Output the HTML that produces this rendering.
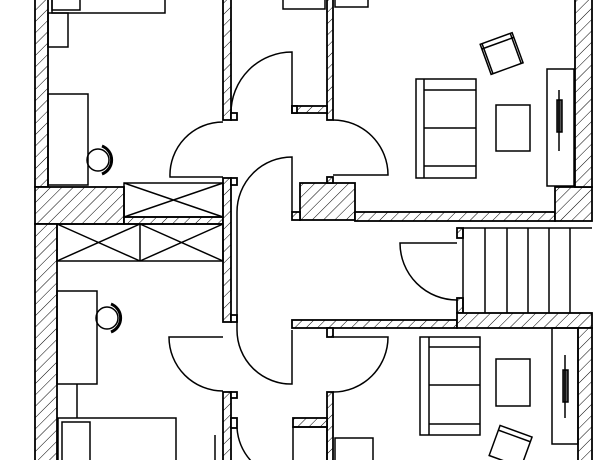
<!DOCTYPE html>
<html><head><meta charset="utf-8"><style>html,body{margin:0;padding:0;background:#fff}svg{display:block}</style></head><body>
<svg width="600" height="460" viewBox="0 0 600 460" xmlns="http://www.w3.org/2000/svg">
<defs>
<pattern id="h" patternUnits="userSpaceOnUse" width="8" height="8" patternTransform="rotate(45)">
<rect width="8" height="8" fill="#fff"/><line x1="0" y1="0" x2="0" y2="8" stroke="#000" stroke-width="1"/>
</pattern>
</defs>
<g fill="url(#h)" stroke="#000" stroke-width="1.8">
<rect x="35" y="-2" width="13" height="189"/>
<rect x="35" y="187" width="89" height="37"/>
<rect x="35" y="224" width="22" height="238"/>
<rect x="124" y="217" width="99" height="7"/>
<rect x="223" y="-2" width="8" height="122"/>
<rect x="223" y="178" width="8" height="144"/>
<rect x="223" y="392" width="8" height="70"/>
<rect x="327" y="-2" width="6" height="122"/>
<rect x="292" y="106" width="35" height="7"/>
<rect x="300" y="183" width="55" height="37"/>
<rect x="327" y="177" width="6" height="6"/>
<rect x="292" y="212" width="8" height="8"/>
<rect x="355" y="212" width="200" height="9"/>
<rect x="555" y="187" width="37" height="34"/>
<rect x="575" y="-2" width="17" height="189"/>
<rect x="457" y="228" width="6" height="10"/>
<rect x="457" y="298" width="6" height="15"/>
<rect x="292" y="320" width="165" height="8"/>
<rect x="457" y="313" width="135" height="15"/>
<rect x="578" y="328" width="14" height="134"/>
<rect x="327" y="328" width="6" height="9"/>
<rect x="327" y="392" width="6" height="70"/>
<rect x="293" y="418" width="34" height="9"/>
</g>
<g fill="#fff" stroke="#000" stroke-width="1.8">
<rect x="231" y="113" width="6" height="7"/><rect x="231" y="178" width="6" height="7"/>
<rect x="231" y="315" width="6" height="7"/><rect x="231" y="392" width="6" height="6"/>
<rect x="231" y="418" width="6" height="10"/><rect x="292" y="106" width="5" height="7"/>
</g>
<g fill="none" stroke="#000" stroke-width="1.5">
<!-- wardrobes -->
<rect x="124" y="183" width="99" height="34"/>
<path d="M124 183L223 217M124 217L223 183"/>
<rect x="57" y="224" width="166" height="37"/>
<path d="M140 224V261M57 224L140 261M57 261L140 224M140 224L223 261M140 261L223 224"/>
<!-- doors -->
<path d="M292 113V52A61 61 0 0 0 231 113"/>
<path d="M223 177H170A53 53 0 0 1 223 122"/>
<path d="M333 175H388A55 55 0 0 0 333 120"/>
<path d="M292 212V157A55 55 0 0 0 237 212V330A54 54 0 0 0 292 384V330"/>
<path d="M223 337H169A54 54 0 0 0 223 391"/>
<path d="M333 337H388A55 55 0 0 1 333 392"/>
<path d="M237 428A55 55 0 0 0 252 462"/>
<path d="M457 243H400A57 57 0 0 0 457 300"/>
<!-- stairs -->
<path d="M463 228H592M463 228V313M485 228V313M507 228V313M528 228V313M549 228V313M570 228V313"/>
<!-- top-left room -->
<rect x="52" y="-2" width="113" height="15"/>
<rect x="52" y="-2" width="28" height="12"/>
<rect x="48" y="13" width="20" height="34"/>
<rect x="48" y="94" width="40" height="91"/>
<circle cx="98" cy="160" r="11"/>
<path d="M102 146A15 15 0 0 1 102 174" stroke-width="3"/>
<rect x="283" y="-2" width="42" height="11"/>
<rect x="335" y="-2" width="33" height="9"/>
<!-- lower-left room -->
<rect x="57" y="291" width="40" height="93"/>
<circle cx="107" cy="318" r="11"/>
<path d="M111 304A15 15 0 0 1 111 332" stroke-width="3"/>
<path d="M77 384V418"/>
<rect x="58" y="418" width="118" height="44"/>
<rect x="62" y="422" width="28" height="40"/>
<path d="M215 435V460"/>
<rect x="293" y="427" width="34" height="35"/>
<rect x="335" y="438" width="38" height="24"/>
<!-- upper-right room -->
<rect x="416" y="79" width="60" height="99"/>
<path d="M424 79V178M424 90H476M424 166H476M424 128H476"/>
<rect x="496" y="105" width="34" height="46"/>
<g transform="rotate(-20 500 52)"><rect x="484" y="38" width="34" height="32"/><path d="M484 43H518M486 38V70M516 38V70"/></g>
<rect x="547" y="69" width="27" height="117"/>
<rect x="557" y="100" width="5" height="32" fill="#555"/>
<path d="M559 90V151"/>
<!-- lower-right room -->
<rect x="420" y="337" width="60" height="98"/>
<path d="M429 337V435M429 347H480M429 424H480M429 385H480"/>
<rect x="496" y="359" width="34" height="47"/>
<g transform="rotate(20 510 445)"><rect x="494" y="430" width="34" height="32"/><path d="M494 435H528"/></g>
<rect x="552" y="328" width="26" height="116"/>
<rect x="563" y="370" width="5" height="32" fill="#555"/>
<path d="M565 355V418"/>
</g>
</svg>
</body></html>
